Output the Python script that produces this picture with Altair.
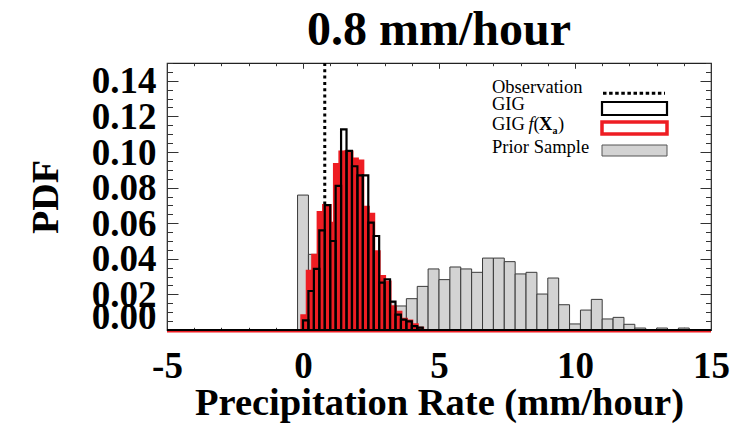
import altair as alt
import pandas as pd
import numpy as np

# ---------------- data ----------------
title_text = "0.8 mm/hour"
x_title = "Precipitation Rate (mm/hour)"
y_title = "PDF"

# Prior sample histogram: bins of width 0.4 centred on 0, 0.4, 0.8, ...
prior_bin_start = -0.2
prior_bin_width = 0.4
prior_pdf = [0.0758, 0.0425, 0.030, 0.020, 0.027, 0.022, 0.020, 0.017, 0.0157, 0.0135,
             0.0176, 0.0245, 0.0343, 0.0283, 0.0354, 0.0343, 0.0324, 0.0404, 0.0404, 0.0384,
             0.0315, 0.0324, 0.0202, 0.0292, 0.0142, 0.0034, 0.0112, 0.0172, 0.0062, 0.0071,
             0.0032, 0.0011, 0.0, 0.0011, 0.0, 0.0011]

# GIG histograms: bins of width 0.2 starting at 0
gig_bin_start = 0.0
gig_bin_width = 0.2
gig_pdf = [0.0054, 0.0219, 0.0343, 0.0560, 0.0702, 0.0500, 0.0810, 0.1127, 0.1006, 0.0920,
           0.0869, 0.0869, 0.0603, 0.0528, 0.0266, 0.0285, 0.0159, 0.0086, 0.0058, 0.0048,
           0.0022, 0.0013]
gig_fxa_pdf = [0.0080, 0.0330, 0.0420, 0.0660, 0.0700, 0.0600, 0.0930, 0.1000, 0.1000, 0.0960,
               0.0950, 0.0690, 0.0650, 0.0440, 0.0300, 0.0270, 0.0130, 0.0100, 0.0060, 0.0050,
               0.0030, 0.0010]

observation = [0.8]
hist_range = [-5, 15]          # range over which the GIG histograms are drawn (zero outside)
x_domain = [-5, 15]
y_domain = [0, 0.15]
x_major = [-5, 0, 5, 10, 15]
y_major = [0.00, 0.02, 0.04, 0.06, 0.08, 0.10, 0.12, 0.14]
legend_labels = ["Observation", "GIG", "GIG", "Prior Sample"]
fxa_parts = ["f", "(", "X", "a", ")"]

# ---------------- tables ----------------
def hist_table(start, width, values):
    x0 = [start + i * width for i in range(len(values))]
    return pd.DataFrame({"x0": x0, "x1": [v + width for v in x0], "pdf": values})

prior_df = hist_table(prior_bin_start, prior_bin_width, prior_pdf)
gig_df = hist_table(gig_bin_start, gig_bin_width, gig_pdf)
fxa_df = hist_table(gig_bin_start, gig_bin_width, gig_fxa_pdf)
obs_df = pd.DataFrame({"obs": observation})
base_df = pd.DataFrame({"x0": [hist_range[0]], "x1": [hist_range[1]], "y": [0.0]})

x_minor = list(range(x_domain[0], x_domain[1] + 1))
y_minor = [round(float(v), 3) for v in np.arange(0, 0.1501, 0.005)]

# ---------------- style ----------------
FONT = "Liberation Serif"
TICK = "#333333"
RED = "#ee1d23"
GRAY_FILL = "#d3d3d3"
W, H = 544, 267

xs = alt.Scale(domain=x_domain, nice=False, zero=False)
ys = alt.Scale(domain=y_domain, nice=False, zero=False)


def tick_axis(orient, values, size):
    return alt.Axis(orient=orient, values=values, labels=False, domain=False, grid=False,
                    ticks=True, tickSize=size, offset=-size, tickColor=TICK, tickWidth=1,
                    title="")


x_label_axis = alt.Axis(orient="bottom", values=x_major, labelExpr="datum.value + ''",
                        ticks=False, tickSize=0, domain=False, grid=False, labelFlush=False,
                        labelPadding=18, labelFont=FONT, labelFontSize=37,
                        labelFontWeight="bold", labelColor="black",
                        title=x_title, titleFont=FONT, titleFontSize=38.5,
                        titleFontWeight="bold", titleColor="black", titleX=W / 2,
                        titleY=84, titleBaseline="alphabetic", titleAlign="center")

y_label_axis = alt.Axis(orient="left", values=y_major, format=".2f", ticks=False, tickSize=0,
                        domain=False, grid=False, labelOverlap=False, labelFlush=False,
                        labelPadding=11, labelFont=FONT, labelFontSize=37,
                        labelFontWeight="bold", labelColor="black",
                        labelOffset={"condition": {"test": "datum.value === 0", "value": -13},
                                     "value": 1},
                        title=y_title, titleFont=FONT, titleFontSize=38,
                        titleFontWeight="bold", titleColor="black", titleX=-110,
                        titleY=H / 2, titleAngle=270, titleBaseline="alphabetic",
                        titleAlign="center")

# ---------------- layers ----------------
prior = alt.Chart(prior_df).mark_rect(fill=GRAY_FILL, stroke="#3a3a3a", strokeWidth=1).encode(
    x=alt.X("x0:Q", scale=xs, axis=x_label_axis),
    x2="x1:Q",
    y=alt.Y("pdf:Q", scale=ys, axis=y_label_axis),
    y2=alt.datum(0),
)

obs = alt.Chart(obs_df).mark_rule(color="black", strokeWidth=3, strokeDash=[3, 3.3]).encode(
    x=alt.X("obs:Q", scale=xs, axis=tick_axis("bottom", x_major, 5.3)),
)

fxa = alt.Chart(fxa_df).mark_rect(fill=RED, stroke=RED, strokeWidth=3, xOffset=-1.2).encode(
    x=alt.X("x0:Q", scale=xs, axis=tick_axis("bottom", x_minor, 2.7)),
    x2="x1:Q",
    y=alt.Y("pdf:Q", scale=ys, axis=tick_axis("left", y_major, 11)),
    y2=alt.datum(0),
)

gig = alt.Chart(gig_df).mark_rect(fillOpacity=0, stroke="black", strokeWidth=2.2).encode(
    x=alt.X("x0:Q", scale=xs, axis=tick_axis("top", x_major, 5.3)),
    x2="x1:Q",
    y=alt.Y("pdf:Q", scale=ys, axis=tick_axis("left", y_minor, 5.5)),
    y2=alt.datum(0),
)

base_red = alt.Chart(base_df).mark_rule(color=RED, strokeWidth=3, yOffset=1).encode(
    x=alt.X("x0:Q", scale=xs, axis=tick_axis("top", x_minor, 2.7)),
    x2="x1:Q",
    y=alt.Y("y:Q", scale=ys, axis=tick_axis("right", y_major, 11)),
)

base_black = alt.Chart(base_df).mark_rule(color="black", strokeWidth=2).encode(
    x=alt.X("x0:Q", scale=xs, axis=None),
    x2="x1:Q",
    y=alt.Y("y:Q", scale=ys, axis=tick_axis("right", y_minor, 5.5)),
)

# ---------------- title (text mark above the plot) ----------------
title = alt.Chart(pd.DataFrame({"label": [title_text]})).mark_text(
    align="center", baseline="alphabetic", font=FONT, fontSize=48, fontWeight="bold",
    color="black"
).encode(x=alt.value(W / 2), y=alt.value(-18), text="label:N")

# ---------------- legend (drawn inside the plot, top right) ----------------
LX_TEXT = 325
LX0, LX1 = 435, 500
LFS = 18.5


def one_row(label):
    return pd.DataFrame({"label": [label]})


def legend_text(label, x, y, size=LFS, style="normal", weight="normal"):
    return alt.Chart(one_row(label)).mark_text(
        align="left", baseline="alphabetic", font=FONT, fontSize=size, fontStyle=style,
        fontWeight=weight, color="black"
    ).encode(x=alt.value(x), y=alt.value(y), text="label:N")


leg = [
    legend_text(legend_labels[0], LX_TEXT, 30),
    legend_text(legend_labels[1], LX_TEXT, 46.5),
    legend_text(legend_labels[2], LX_TEXT, 67),
    legend_text(fxa_parts[0], 361.5, 67, style="italic"),
    legend_text(fxa_parts[1], 366.5, 67),
    legend_text(fxa_parts[2], 372, 67, weight="bold"),
    legend_text(fxa_parts[3], 385.5, 71, size=10, weight="bold"),
    legend_text(fxa_parts[4], 391, 67),
    legend_text(legend_labels[3], LX_TEXT, 90),
    alt.Chart(one_row("obs")).mark_rule(color="black", strokeWidth=3, strokeDash=[3.5, 2.6]).encode(
        x=alt.value(LX0 + 1), x2=alt.value(LX1 - 2), y=alt.value(30.3)),
    alt.Chart(one_row("gig")).mark_rect(fillOpacity=0, stroke="black", strokeWidth=2.2).encode(
        x=alt.value(LX0), x2=alt.value(LX1), y=alt.value(39), y2=alt.value(52)),
    alt.Chart(one_row("fxa")).mark_rect(fill="white", stroke=RED, strokeWidth=3.5).encode(
        x=alt.value(LX0), x2=alt.value(LX1), y=alt.value(59), y2=alt.value(71)),
    alt.Chart(one_row("prior")).mark_rect(fill=GRAY_FILL, stroke="#555555", strokeWidth=1).encode(
        x=alt.value(LX0), x2=alt.value(LX1), y=alt.value(82), y2=alt.value(93)),
]

chart = alt.layer(prior, obs, fxa, gig, base_red, base_black, title, *leg).resolve_axis(
    x="independent", y="independent"
).properties(
    width=W,
    height=H,
    autosize=alt.AutoSizeParams(type="none"),
    padding={"left": 167, "top": 63, "right": 37, "bottom": 97},
    background="white",
).configure_view(stroke="#222222", strokeWidth=1.2)

chart.save("out.html", embed_options={"renderer": "svg", "actions": False})
